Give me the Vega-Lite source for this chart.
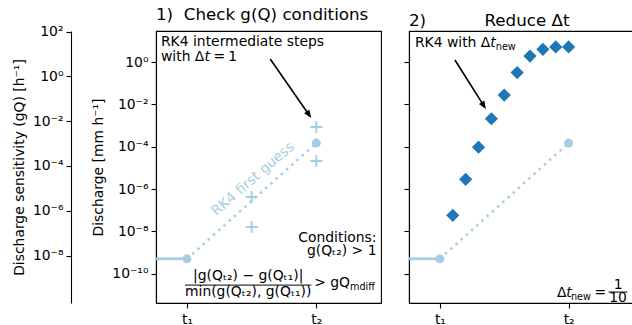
{
  "$schema": "https://vega.github.io/schema/vega-lite/v6.json",
  "padding": {"left": 11, "top": 6, "right": 0, "bottom": 0},
  "spacing": 20,
  "config": {
    "font": "DejaVu Sans",
    "view": {"stroke": "black", "strokeWidth": 1.1},
    "axis": {"grid": false, "domainColor": "black", "tickColor": "black", "labelColor": "black", "titleColor": "black", "labelFontSize": 13.9, "titleFontSize": 13.9, "titleFontWeight": "normal", "tickSize": 5, "labelPadding": 3, "domainWidth": 1.1, "tickWidth": 1.1, "labelFont": "DejaVu Sans", "titleFont": "DejaVu Sans", "titlePadding": 6},
    "title": {"font": "DejaVu Sans", "fontSize": 16.7, "fontWeight": "normal", "anchor": "start", "frame": "group", "baseline": "alphabetic", "offset": 1, "color": "black"},
    "text": {"font": "DejaVu Sans", "fontSize": 13.9, "color": "black", "baseline": "alphabetic"}
  },
  "hconcat": [
    {
      "width": 225,
      "height": 272,
      "title": {"text": "1)\u00a0\u00a0Check g(Q) conditions", "dx": 0},
      "resolve": {"scale": {"y": "independent"}, "axis": {"y": "independent"}},
      "layer": [
        {
          "data": {"values": [{"x": 0, "g": 1}]},
          "mark": {"type": "point", "opacity": 0},
          "encoding": {
            "x": {"field": "x", "type": "quantitative", "scale": {"domain": [-0.24, 1.5], "nice": false, "zero": false}, "axis": {"values": [0, 1], "labelExpr": "datum.value == 0 ? 't₁' : 't₂'", "title": null, "labelPadding": 4}},
            "y": {"field": "g", "type": "quantitative", "scale": {"type": "log", "domain": [7.59e-11, 107.2], "nice": false, "zero": false}, "axis": {"orient": "left", "offset": 85, "title": "Discharge sensitivity (gQ) [h⁻¹]", "values": [1e-8, 1e-6, 0.0001, 0.01, 1, 100], "labelExpr": "datum.value > 50 ? '10²' : datum.value > 0.5 ? '10⁰' : datum.value > 0.005 ? '10⁻²' : datum.value > 0.00005 ? '10⁻⁴' : datum.value > 0.0000005 ? '10⁻⁶' : '10⁻⁸'"}}
          }
        },
        {
          "encoding": {
            "x": {"field": "x", "type": "quantitative", "scale": {"domain": [-0.24, 1.5], "nice": false, "zero": false}, "axis": {"values": [0, 1], "labelExpr": "datum.value == 0 ? 't₁' : 't₂'", "title": null, "labelPadding": 4}},
            "y": {"field": "q", "type": "quantitative", "scale": {"type": "log", "domain": [4.17e-12, 29.1], "nice": false, "zero": false}, "axis": {"orient": "left", "title": "Discharge [mm h⁻¹]", "values": [1e-10, 1e-8, 1e-6, 0.0001, 0.01, 1], "labelExpr": "datum.value > 0.5 ? '10⁰' : datum.value > 0.005 ? '10⁻²' : datum.value > 0.00005 ? '10⁻⁴' : datum.value > 0.0000005 ? '10⁻⁶' : datum.value > 0.000000005 ? '10⁻⁸' : '10⁻¹⁰'"}}
          },
          "layer": [
            {"data": {"values": [{"x": -0.24, "q": 5.1e-10}, {"x": 0, "q": 5.1e-10}]}, "mark": {"type": "line", "color": "#a6cee3", "strokeWidth": 2.8}},
            {"data": {"values": [{"x": 0, "q": 5.1e-10}, {"x": 1, "q": 1.49e-4}]}, "mark": {"type": "line", "color": "#a6cee3", "strokeWidth": 2.5, "strokeDash": [2.5, 4.5]}},
            {"data": {"values": [{"x": 0, "q": 5.1e-10}, {"x": 1, "q": 1.49e-4}]}, "mark": {"type": "point", "filled": true, "color": "#a6cee3", "size": 80, "opacity": 1, "shape": "circle"}},
            {"data": {"values": [{"x": 0.5, "q": 4.2e-7}, {"x": 0.5, "q": 1.61e-8}, {"x": 1, "q": 8.5e-4}, {"x": 1, "q": 2.11e-5}]}, "mark": {"type": "point", "filled": false, "color": "#a6cee3", "size": 144, "strokeWidth": 2, "opacity": 1, "shape": "M-1,0L1,0M0,-1L0,1"}},
            {"data": {"values": [{"x": 0.51, "q": 2.95e-6, "t": "RK4 first guess"}]}, "mark": {"type": "text", "color": "#a6cee3", "angle": 319, "align": "center", "baseline": "middle"}, "encoding": {"text": {"field": "t"}}},
            {"data": {"values": [{"x": 0.643, "q": 1.387, "x2": 0.943, "q2": 3.24e-3}]}, "mark": {"type": "rule", "color": "black", "strokeWidth": 1.6}, "encoding": {"x2": {"field": "x2"}, "y2": {"field": "q2"}}},
            {"data": {"values": [{"x": 0.961, "q": 2.26e-3}]}, "mark": {"type": "point", "filled": true, "color": "black", "opacity": 1, "size": 256, "shape": "M0,0L-0.4,-1L0.4,-1Z", "angle": 325}},
            {"data": {"values": [{"x": -0.2016, "q": 5.7, "t": "RK4 intermediate steps"}, {"x": -0.2016, "q": 1.114, "t": "with Δ"}, {"x": 0.2054, "q": 1.114, "t": "="}, {"x": 0.318, "q": 1.114, "t": "1"}]}, "mark": {"type": "text", "align": "left"}, "encoding": {"text": {"field": "t"}}},
            {"data": {"values": [{"x": 0.1357, "q": 1.114, "t": "t"}]}, "mark": {"type": "text", "align": "left", "fontStyle": "italic"}, "encoding": {"text": {"field": "t"}}},
            {"data": {"values": [{"x": 1.465, "q": 3.25e-9, "t": "Conditions:"}, {"x": 1.465, "q": 7.64e-10, "t": "g(Qₜ₂) > 1"}, {"x": 1.26, "q": 2.35e-11, "t": "> gQ"}]}, "mark": {"type": "text", "align": "right"}, "encoding": {"text": {"field": "t"}}},
            {"data": {"values": [{"x": 0.473, "q": 5.04e-11, "t": "|g(Qₜ₂) − g(Qₜ₁)|"}, {"x": 0.473, "q": 8.85e-12, "t": "min(g(Qₜ₂), g(Qₜ₁))"}]}, "mark": {"type": "text", "align": "center"}, "encoding": {"text": {"field": "t"}}},
            {"data": {"values": [{"x": 1.26, "q": 1.7e-11, "t": "mdiff"}]}, "mark": {"type": "text", "align": "left", "fontSize": 9.7}, "encoding": {"text": {"field": "t"}}},
            {"data": {"values": [{"x": -0.0155, "q": 2.92e-11, "x2": 0.961}]}, "mark": {"type": "rule", "color": "black", "strokeWidth": 1}, "encoding": {"x2": {"field": "x2"}}}
          ]
        }
      ]
    },
    {
      "width": 224,
      "height": 272,
      "title": {"text": "2)\u00a0\u00a0\u00a0\u00a0\u00a0\u00a0\u00a0\u00a0\u00a0\u00a0\u00a0Reduce Δt", "dx": 0},
      "encoding": {
        "x": {"field": "x", "type": "quantitative", "scale": {"domain": [-0.24, 1.5], "nice": false, "zero": false}, "axis": {"values": [0, 1], "labelExpr": "datum.value == 0 ? 't₁' : 't₂'", "title": null, "labelPadding": 4}},
        "y": {"field": "q", "type": "quantitative", "scale": {"type": "log", "domain": [4.17e-12, 29.1], "nice": false, "zero": false}, "axis": {"orient": "left", "title": null, "labels": false, "values": [1e-10, 1e-8, 1e-6, 0.0001, 0.01, 1]}}
      },
      "layer": [
        {"data": {"values": [{"x": -0.24, "q": 5.1e-10}, {"x": 0, "q": 5.1e-10}]}, "mark": {"type": "line", "color": "#a6cee3", "strokeWidth": 2.8}},
        {"data": {"values": [{"x": 0, "q": 5.1e-10}, {"x": 1, "q": 1.49e-4}]}, "mark": {"type": "line", "color": "#a6cee3", "strokeWidth": 2.5, "strokeDash": [2.5, 4.5]}},
        {"data": {"values": [{"x": 0, "q": 5.1e-10}, {"x": 1, "q": 1.49e-4}]}, "mark": {"type": "point", "filled": true, "color": "#a6cee3", "size": 80, "opacity": 1, "shape": "circle"}},
        {"data": {"values": [
          {"x": 0.1, "q": 5.75e-8}, {"x": 0.2, "q": 2.88e-6}, {"x": 0.3, "q": 9.55e-5}, {"x": 0.4, "q": 2.09e-3}, {"x": 0.5, "q": 2.75e-2},
          {"x": 0.6, "q": 0.316}, {"x": 0.7, "q": 1.905}, {"x": 0.8, "q": 3.98}, {"x": 0.9, "q": 5.13}, {"x": 1.0, "q": 5.13}
        ]}, "mark": {"type": "point", "filled": true, "color": "#1f78b4", "size": 175, "opacity": 1, "shape": "diamond"}},
        {"data": {"values": [{"x": 0.1166, "q": 1.24, "x2": 0.341, "q2": 8.7e-3}]}, "mark": {"type": "rule", "color": "black", "strokeWidth": 1.6}, "encoding": {"x2": {"field": "x2"}, "y2": {"field": "q2"}}},
        {"data": {"values": [{"x": 0.357, "q": 6.03e-3}]}, "mark": {"type": "point", "filled": true, "color": "black", "opacity": 1, "size": 256, "shape": "M0,0L-0.4,-1L0.4,-1Z", "angle": 328}},
        {"data": {"values": [{"x": -0.194, "q": 5.11, "t": "RK4 with Δ"}, {"x": 0.909, "q": 7.94e-12, "t": "Δ"}, {"x": 1.2016, "q": 7.94e-12, "t": "="}]}, "mark": {"type": "text", "align": "left"}, "encoding": {"text": {"field": "t"}}},
        {"data": {"values": [{"x": 0.391, "q": 5.11, "t": "t"}, {"x": 0.981, "q": 7.94e-12, "t": "t"}]}, "mark": {"type": "text", "align": "left", "fontStyle": "italic"}, "encoding": {"text": {"field": "t"}}},
        {"data": {"values": [{"x": 0.434, "q": 3.69, "t": "new"}, {"x": 1.018, "q": 5.71e-12, "t": "new"}]}, "mark": {"type": "text", "align": "left", "fontSize": 9.7}, "encoding": {"text": {"field": "t"}}},
        {"data": {"values": [{"x": 1.384, "q": 1.82e-11, "t": "1"}, {"x": 1.384, "q": 4.6e-12, "t": "10"}]}, "mark": {"type": "text", "align": "center"}, "encoding": {"text": {"field": "t"}}},
        {"data": {"values": [{"x": 1.31, "q": 1.37e-11, "x2": 1.457}]}, "mark": {"type": "rule", "color": "black", "strokeWidth": 1}, "encoding": {"x2": {"field": "x2"}}}
      ]
    }
  ]
}
